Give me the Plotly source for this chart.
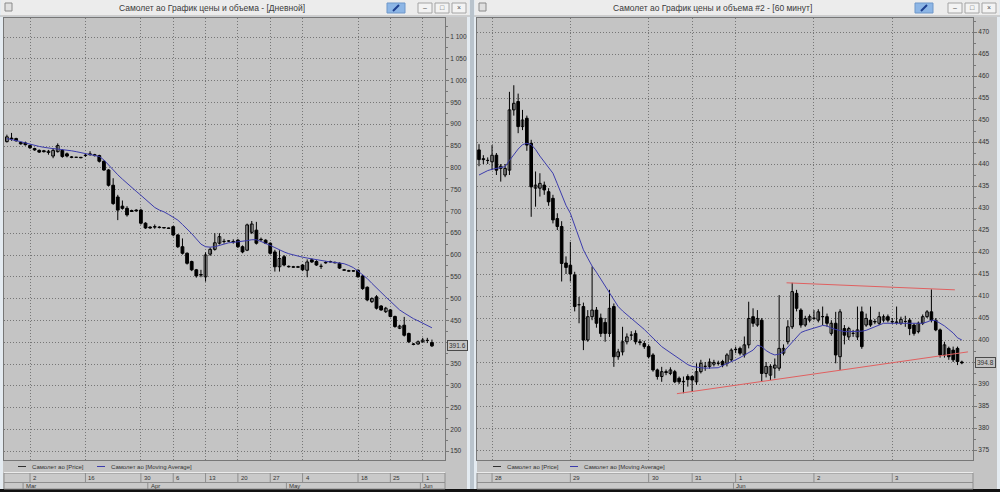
import plotly.graph_objects as go
import pandas as pd

W, H = 1000, 492

# ---------------- daily panel data ----------------
drop_days = {"2026-03-08", "2026-03-09", "2026-03-21", "2026-03-22", "2026-05-09", "2026-05-11"}
d_dates = [d.strftime("%Y-%m-%d") for d in pd.date_range("2026-02-25", "2026-06-03", freq="D")
           if d.strftime("%Y-%m-%d") not in drop_days]

d_open = [860, 868, 867, 858, 857, 851, 844, 840, 839, 835,
          827, 837, 840, 832, 825, 824, 824, 828, 830, 830,
          828, 815, 795, 760, 733, 712, 707, 702, 703, 703,
          673, 664, 665, 664, 663, 662, 665, 646, 619, 604,
          585, 566, 555, 550, 602, 613, 627, 631, 632, 631,
          634, 619, 611, 652, 657, 636, 634, 627, 607, 573,
          596, 574, 573, 573, 577, 565, 589, 585, 574, 583,
          585, 583, 581, 566, 564, 564, 565, 552, 526, 493,
          504, 483, 470, 474, 459, 432, 439, 420, 396, 396,
          401, 404, 399]
d_high = [876, 880, 869, 860, 860, 853, 846, 842, 841, 841,
          845, 856, 843, 835, 827, 825, 825, 832, 838, 832,
          830, 817, 797, 776, 738, 725, 712, 704, 705, 706,
          675, 666, 670, 666, 664, 663, 667, 648, 638, 606,
          587, 568, 566, 606, 617, 650, 650, 637, 634, 636,
          637, 622, 672, 678, 676, 640, 636, 629, 612, 611,
          600, 576, 575, 575, 579, 590, 592, 588, 580, 586,
          587, 585, 583, 568, 566, 565, 567, 555, 528, 503,
          508, 485, 481, 476, 461, 440, 458, 422, 398, 404,
          410, 410, 406]
d_low = [858, 862, 860, 853, 851, 843, 839, 834, 835, 830,
         822, 835, 823, 824, 822, 823, 822, 825, 828, 826,
         812, 793, 757, 715, 680, 704, 688, 699, 700, 670,
         660, 660, 660, 661, 661, 660, 643, 616, 601, 578,
         563, 548, 549, 539, 598, 610, 624, 626, 630, 626,
         616, 604, 609, 648, 624, 632, 625, 601, 562, 562,
         574, 571, 571, 571, 563, 549, 582, 575, 568, 580,
         583, 581, 568, 564, 562, 562, 548, 520, 494, 490,
         475, 472, 467, 457, 433, 430, 413, 398, 393, 394,
         399, 398, 389]
d_close = [871, 866, 862, 855, 853, 846, 841, 836, 837, 838,
           840, 851, 826, 827, 824, 824, 823, 829, 832, 828,
           815, 795, 760, 718, 703, 707, 692, 700, 701, 673,
           662, 662, 664, 663, 662, 661, 646, 619, 604, 581,
           566, 552, 554, 600, 613, 628, 642, 631, 632, 630,
           619, 607, 669, 671, 627, 635, 627, 604, 573, 592,
           577, 573, 572, 572, 566, 584, 584, 577, 574, 582,
           584, 582, 570, 565, 563, 563, 550, 523, 497, 500,
           478, 474, 478, 459, 436, 437, 416, 401, 395, 401,
           405, 404, 391.6]
d_ma = [867, 865, 862, 860, 857, 854, 851, 849, 847, 845,
        844, 843, 842, 841, 839, 837, 835, 833, 831, 829,
        826, 818, 806, 795, 784, 774, 764, 755, 746, 737,
        728, 718, 709, 703, 699, 693, 687, 680, 670, 660,
        649, 637, 625, 619, 618, 619, 622, 626, 628, 629,
        630, 631, 633, 635, 635, 631, 627, 622, 617, 611,
        607, 603, 600, 597, 595, 593, 591, 589, 587, 585,
        584, 583, 582, 580, 576, 571, 563, 555, 546, 535,
        524, 513, 504, 494, 484, 474, 467, 460, 454, 449,
        443, 438, 433]
d_tick_dates = ["2026-03-02", "2026-03-16", "2026-03-30", "2026-04-06", "2026-04-13", "2026-04-20",
                "2026-04-27", "2026-05-04", "2026-05-18", "2026-05-25", "2026-06-01"]
d_tick_text = ["2", "16", "30", "6", "13", "20", "27", "4", "18", "25", "1"]
d_price_ticks = list(range(150, 1101, 50))
month_names = {"03": "Mar", "04": "Apr", "05": "May", "06": "Jun"}

# ---------------- hourly panel data ----------------
sessions = [("2026-05-27", 21, 23), ("2026-05-28", 6, 23), ("2026-05-29", 6, 23), ("2026-05-30", 10, 19),
            ("2026-05-31", 10, 19), ("2026-06-01", 6, 23), ("2026-06-02", 6, 23), ("2026-06-03", 6, 22)]
h_times = [f"{d} {h:02d}:00" for d, a, b in sessions for h in range(a, b + 1)]

h_open = [443.2, 441.2, 440.8, 440.5, 442, 439, 437.5, 438.6, 452.3, 454.2,
          448.5, 450.4, 444.7, 434.5, 434.5, 435.2, 433.7, 432.2, 427.6, 425.8,
          417.5, 417, 414.8, 408, 407.6, 400, 405.3, 406.8, 405, 404,
          401.5, 407.6, 396.2, 397.3, 399.6, 401.1, 401.5, 399.6, 399.2, 398.5,
          396.6, 393.2, 391.7, 392.8, 392.4, 392.8, 391.3, 390.5, 391.7, 391.7,
          390.5, 392.8, 394, 394, 394.5, 394.7, 395.1, 394.7, 395.5, 397.9,
          398.1, 396.6, 398.9, 405.3, 403.4, 404.5, 392.4, 392, 393.6, 393.6,
          397, 399.6, 403, 410.6, 406.8, 403.4, 404.5, 404.9, 404.5, 405.3,
          405.3, 401.5, 403.8, 396.2, 402.6, 400.7, 401.5, 400.7, 406.4, 403.4,
          404.5, 404.2, 403.8, 404.5, 405.3, 404.2, 404.1, 403.8, 404.2, 404.5,
          403.4, 401.9, 403.8, 405.3, 406.4, 404.5, 402.3, 396.6, 398.1, 397.7,
          398.1, 395]
h_high = [444.5, 442, 441.5, 444.3, 442.5, 440, 440, 456.4, 457.9, 456,
          452.3, 451, 445.5, 438.3, 437.9, 436, 434.5, 433, 428.8, 427,
          419, 422.3, 415.5, 409.8, 408.5, 406.8, 416.7, 407.5, 406, 405,
          411.4, 408.3, 398, 403, 401.5, 402, 402.2, 400.2, 399.8, 399,
          397, 393.5, 393.9, 393.3, 393.8, 393.2, 391.7, 391.7, 392.2, 392,
          394.7, 395.5, 395, 395.8, 395.5, 395.3, 395.5, 397, 398.1, 398.5,
          398.5, 400.8, 408.7, 407.2, 406.8, 405, 395, 394.5, 395.8, 410.2,
          399, 404.5, 413, 411.4, 407.2, 405.5, 405.8, 406.8, 407, 407.6,
          406, 404.5, 406.4, 407, 403.4, 403, 402.3, 407.6, 407.6, 406,
          407.6, 404.8, 406.4, 405.8, 405.8, 405, 407.6, 405.3, 405.5, 405,
          403.8, 404.2, 405.8, 406.8, 411.5, 405, 402.6, 399.6, 398.5, 398.5,
          398.5, 395.3]
h_low = [439.5, 440, 440, 438.6, 437.5, 436, 437, 437.5, 451, 447,
         447.7, 443, 428, 430.3, 432.6, 433, 430.5, 426.5, 425, 413.3,
         415, 413.3, 406.5, 403.8, 397.7, 399.6, 404.5, 402.8, 400.7, 399.6,
         400.7, 393.9, 395.5, 396.5, 399, 400, 399, 398.8, 398, 395.8,
         392.8, 391, 390.5, 392, 392, 390.2, 390, 387.9, 389.4, 388.3,
         389.8, 392.4, 393, 393.5, 394, 394.2, 393.8, 394, 395, 397,
         396.5, 396, 398.1, 403, 403, 390.5, 391.5, 390.9, 391.3, 393,
         396.5, 399, 402.5, 406.5, 402.8, 403, 404, 404.5, 404, 403.4,
         403, 401, 394.7, 393.2, 399, 400, 400.7, 400, 398, 403,
         403, 403.6, 403.4, 404, 404, 403.6, 403.5, 403.4, 403, 401.1,
         401, 401.5, 403.4, 405, 404, 402, 396, 396, 395.5, 395,
         394.3, 394.5]
h_close = [441, 441, 440.8, 442, 438.6, 439.5, 439, 452.3, 453.8, 448.5,
           450, 444.3, 434.8, 435.2, 435.6, 434.1, 431.4, 427.3, 425.8, 417.4,
           416.5, 415, 407.6, 408, 400, 405.3, 406.8, 403.8, 401.5, 401.5,
           407.2, 396.2, 397.3, 399.6, 400.7, 401.1, 399.6, 399.4, 398.5, 396.2,
           393.2, 391.7, 392.8, 392.6, 393.2, 390.5, 390.5, 390.6, 391, 390.9,
           392.8, 394.7, 394, 395, 394.9, 394.7, 394.3, 396.6, 397.7, 397.8,
           397, 398.9, 404.9, 403.8, 404.9, 392.4, 394, 394, 394.3, 398.1,
           398.1, 403, 411, 407.2, 403.4, 404.9, 405.3, 405, 406.4, 405.3,
           403.8, 403.8, 396.6, 406.4, 401.1, 402.6, 401.5, 402.3, 398.5, 404.9,
           403.4, 404.1, 405.3, 405.3, 404.5, 404.1, 404, 404.7, 404.2, 402.6,
           401.5, 403.8, 405.3, 406.4, 404.5, 402.3, 396.6, 398.9, 396.2, 395.5,
           395.1, 394.8]
h_ma = [437.5, 438, 438.5, 438.8, 439, 439.2, 439.4, 440.8, 442.2, 443.4,
        444.4, 444.7, 444.4, 443.3, 441.8, 440.5, 439.2, 437.9, 435.5, 433,
        430.6, 428.8, 426, 423, 420.5, 418.6, 416.8, 415.4, 413.9, 412.3,
        410.8, 409.3, 407.6, 406.6, 405.8, 405, 404.2, 403.3, 402.4, 401.4,
        400.4, 399.4, 398.5, 397.8, 397.1, 396.5, 395.8, 395, 394.4, 394,
        393.8, 393.7, 393.6, 393.6, 393.6, 393.7, 394.2, 394.6, 395.1, 395.5,
        396, 396.6, 397.2, 397.7, 398.8, 398.5, 397.6, 397, 396.6, 396.8,
        397.3, 398.4, 399.6, 400.8, 401.7, 402.1, 402.4, 402.6, 403, 403.3,
        403.2, 402.7, 402.4, 402.1, 401.9, 401.9, 401.9, 401.9, 402, 402.2,
        402.6, 403, 403.4, 403.8, 403.8, 403.8, 403.8, 403.8, 403.8, 403.8,
        403.8, 403.8, 403.8, 404.1, 404.5, 404.4, 403.8, 403.2, 402.4, 401.6,
        400.5, 400]
h_tick_text = ["28", "29", "30", "31", "1", "2", "3"]
h_price_ticks = list(range(375, 471, 5))
# user-drawn trend lines (bar position, price)
trend_upper_pos, trend_upper_val = [70.7, 109.4], [413.0, 411.4]
trend_lower_pos, trend_lower_val = [45.5, 112.4], [387.8, 397.3]

# ---------------- styling ----------------
FONT = "Liberation Sans"
TXT = "#333333"
GRID = "#767676"
AXIS = "#777777"
CHART_BG = "#c4c4c4"
MA_COLOR = "#3c3cac"
TREND = "#e06060"

def px(x):
    return x / W

def py(y):
    return 1 - y / H

shapes, annots = [], []

def rect(x0, y0, x1, y1, fill, line=None, lw=1, layer="below"):
    shapes.append(dict(type="rect", xref="paper", yref="paper", x0=px(x0), x1=px(x1), y0=py(y1), y1=py(y0),
                       fillcolor=fill, line=dict(color=line or fill, width=lw if line else 0), layer=layer))

def hline(x0, x1, y, color, w=1):
    shapes.append(dict(type="line", xref="paper", yref="paper", x0=px(x0), x1=px(x1), y0=py(y), y1=py(y),
                       line=dict(color=color, width=w)))

def text(x, y, s, size=6, color=TXT, anchor="left", xref="paper", xshift=0):
    annots.append(dict(x=x if xref != "paper" else px(x), y=py(y), xref=xref, yref="paper", text=s,
                       showarrow=False, xanchor=anchor, yanchor="middle", xshift=xshift,
                       font=dict(family=FONT, size=size, color=color)))

# window chrome
rect(0, 0, 1000, 492, "#b9c3cc")
for (wx0, wx1, title, tcx, btn) in [(0, 470, "Самолет ао График цены и объема - [Дневной]", 212, 387),
                                     (474, 1000, "Самолет ао График цены и объема #2 - [60 минут]", 712, 915)]:
    rect(wx0, 0, wx1, 492, "#e4ebf1")
    rect(wx0 + 1, 0, wx1 - 1, 16, "#ececec")
    hline(wx0, wx1, 16, "#b0b0b0")
    rect(wx0 + 3, 17, wx1 - 3, 489, CHART_BG)
    text(tcx, 8, title, size=8.5, color="#3a3a3a", anchor="center")
    rect(wx0 + 5, 3, wx0 + 12, 11, "#e0e0e0", "#8a8a8a")
    rect(btn, 3, btn + 18, 13, "#8db6e6", "#6f97c9")
    shapes.append(dict(type="line", xref="paper", yref="paper", x0=px(btn + 6), x1=px(btn + 12),
                       y0=py(11), y1=py(5), line=dict(color="#1d3f8f", width=2)))
    for k, g in enumerate(["–", "□", "×"]):
        bx = wx1 - 52 + k * 17
        rect(bx, 3, bx + 14, 13, "#f3f3f3", "#a4a4a4")
        text(bx + 7, 8, g, size=7, color="#555555", anchor="center")
rect(0, 489, 1000, 492, "#111111")

# plot geometry (pixels)
L_X0, L_X1 = 4, 445
R_X0, R_X1 = 477, 973
Y_TOP, Y_BOT = 18, 459.5
ydom = [py(Y_BOT), py(Y_TOP)]

xd = list(range(len(d_dates)))
xh = list(range(len(h_times)))
d_tick_idx = [d_dates.index(t) for t in d_tick_dates]
d_month_idx = [i for i in range(1, len(d_dates)) if d_dates[i][5:7] != d_dates[i - 1][5:7]]
h_day_idx = [i for i in range(1, len(h_times)) if h_times[i][:10] != h_times[i - 1][:10]]
h_month_idx = [i for i in range(1, len(h_times)) if h_times[i][5:7] != h_times[i - 1][5:7]]

fig = go.Figure()

def add_candles(x, o, h, l, c, xa, ya, eps, width):
    wx, wy = [], []
    for i in range(len(x)):
        wx += [x[i], x[i], None]
        wy += [l[i], h[i], None]
    fig.add_trace(go.Scatter(x=wx, y=wy, mode="lines", line=dict(color="#000000", width=1),
                             xaxis=xa, yaxis=ya, hoverinfo="skip", name="Самолет ао [Price]"))
    up = [i for i in range(len(x)) if c[i] >= o[i]]
    dn = [i for i in range(len(x)) if c[i] < o[i]]
    for idx, fill in [(up, "#ffffff"), (dn, "#000000")]:
        fig.add_trace(go.Bar(x=[x[i] for i in idx], base=[min(o[i], c[i]) for i in idx],
                             y=[max(abs(c[i] - o[i]), eps) for i in idx], width=width,
                             marker=dict(color=fill, line=dict(color="#000000", width=1)),
                             xaxis=xa, yaxis=ya, hoverinfo="skip", name="Самолет ао [Price]"))

add_candles(xd, d_open, d_high, d_low, d_close, "x", "y", 0.3, 0.6)
fig.add_trace(go.Scatter(x=xd, y=d_ma, mode="lines", line=dict(color=MA_COLOR, width=1),
                         xaxis="x", yaxis="y", name="Самолет ао [Moving Average]"))
add_candles(xh, h_open, h_high, h_low, h_close, "x2", "y2", 0.03, 0.6)
fig.add_trace(go.Scatter(x=xh, y=h_ma, mode="lines", line=dict(color=MA_COLOR, width=1),
                         xaxis="x2", yaxis="y2", name="Самолет ао [Moving Average]"))

for pos, val in [(trend_upper_pos, trend_upper_val), (trend_lower_pos, trend_lower_val)]:
    shapes.append(dict(type="line", xref="x2", yref="y2", x0=pos[0], x1=pos[1], y0=val[0], y1=val[1],
                       line=dict(color=TREND, width=1), layer="above"))

def xax(x0, x1, first_px, pitch, ticks):
    lo = (x0 - first_px) / pitch
    hi = (x1 - first_px) / pitch
    return dict(domain=[px(x0), px(x1)], range=[lo, hi], tickvals=ticks, showticklabels=False, ticks="",
                showgrid=True, gridcolor=GRID, griddash="1px,2px", gridwidth=1, zeroline=False,
                showline=True, mirror=True, linecolor=AXIS, linewidth=1, fixedrange=True)

def fmt_price(v):
    return f"{v:,}".replace(",", " ")

def yax(anchor, rng, ticks, last, hide_within, minor):
    labels = ["" if abs(t - last) < hide_within else fmt_price(t) for t in ticks]
    return dict(domain=ydom, range=rng, anchor=anchor, side="right", tickvals=ticks, ticktext=labels,
                ticks="outside", ticklen=3, tickcolor=AXIS, tickfont=dict(family=FONT, size=6.5, color=TXT),
                showgrid=True, gridcolor=GRID, griddash="1px,2px", gridwidth=1, zeroline=False,
                showline=True, mirror=True, linecolor=AXIS, linewidth=1, fixedrange=True,
                minor=dict(ticks="outside", ticklen=2, dtick=minor, tickcolor=AXIS, showgrid=False))

L_PITCH, L_FIRST = 4.62, 6.9
R_PITCH, R_FIRST = 4.35, 479.0
left_rng = [1100 - (Y_BOT - 37) / 0.436, 1100 + (37 - Y_TOP) / 0.436]
right_rng = [470 - (Y_BOT - 32) / 4.4, 470 + (32 - Y_TOP) / 4.4]

# legend strips, date strips, price labels
for (x0, x1, xref, tick_idx, tick_txt, m_idx, m_txt, leg, yref, last) in [
        (L_X0, L_X1, "x", d_tick_idx, d_tick_text, d_month_idx,
         [month_names[d_dates[i][5:7]] for i in d_month_idx], (18, 97), "y", d_close[-1]),
        (R_X0, R_X1, "x2", h_day_idx, h_tick_text, h_month_idx,
         [month_names[h_times[i][5:7]] for i in h_month_idx], (493, 570), "y2", h_close[-1])]:
    hline(leg[0], leg[0] + 8, 466.5, "#303030")
    text(leg[0] + 12, 466.5, "Самолет ао [Price]", size=6)
    hline(leg[1], leg[1] + 8, 466.5, MA_COLOR)
    text(leg[1] + 12, 466.5, "Самолет ао [Moving Average]", size=6)
    hline(x0, x1, 472.5, "#ebebeb", 1)
    rect(x0, 473, x1, 482.5, "#c9c9c9", "#8e8e8e")
    rect(x0, 482.5, x1, 489, "#c9c9c9", "#8e8e8e")
    for i, t in zip(tick_idx, tick_txt):
        shapes.append(dict(type="line", xref=xref, yref="paper", x0=i, x1=i, y0=py(482.5), y1=py(473),
                           line=dict(color="#8e8e8e", width=1)))
        text(i, 477.8, t, size=6, xref=xref, xshift=1)
    for i, t in zip(m_idx, m_txt):
        shapes.append(dict(type="line", xref=xref, yref="paper", x0=i - 0.5, x1=i - 0.5, y0=py(489), y1=py(482.5),
                           line=dict(color="#8e8e8e", width=1)))
        text(i - 0.5, 486, t, size=6, xref=xref, xshift=1)
    annots.append(dict(x=px(x1 + 2), y=last, xref="paper", yref=yref, text=f"{last:.1f}", showarrow=False,
                       xanchor="left", yanchor="middle", bgcolor=CHART_BG, bordercolor="#4a4a4a",
                       borderwidth=1, borderpad=1, font=dict(family=FONT, size=6.5, color=TXT)))

fig.update_layout(
    width=W, height=H, autosize=False, margin=dict(l=0, r=0, t=0, b=0),
    paper_bgcolor="#c4c4c4", plot_bgcolor=CHART_BG, showlegend=False, barmode="overlay",
    xaxis=xax(L_X0, L_X1, L_FIRST, L_PITCH, d_tick_idx),
    yaxis=yax("x", left_rng, d_price_ticks, d_close[-1], 30, 25),
    xaxis2=xax(R_X0, R_X1, R_FIRST, R_PITCH, h_day_idx),
    yaxis2=yax("x2", right_rng, h_price_ticks, h_close[-1], 3, 2.5),
    shapes=shapes, annotations=annots, font=dict(family=FONT),
)

fig.write_html("out.html")
